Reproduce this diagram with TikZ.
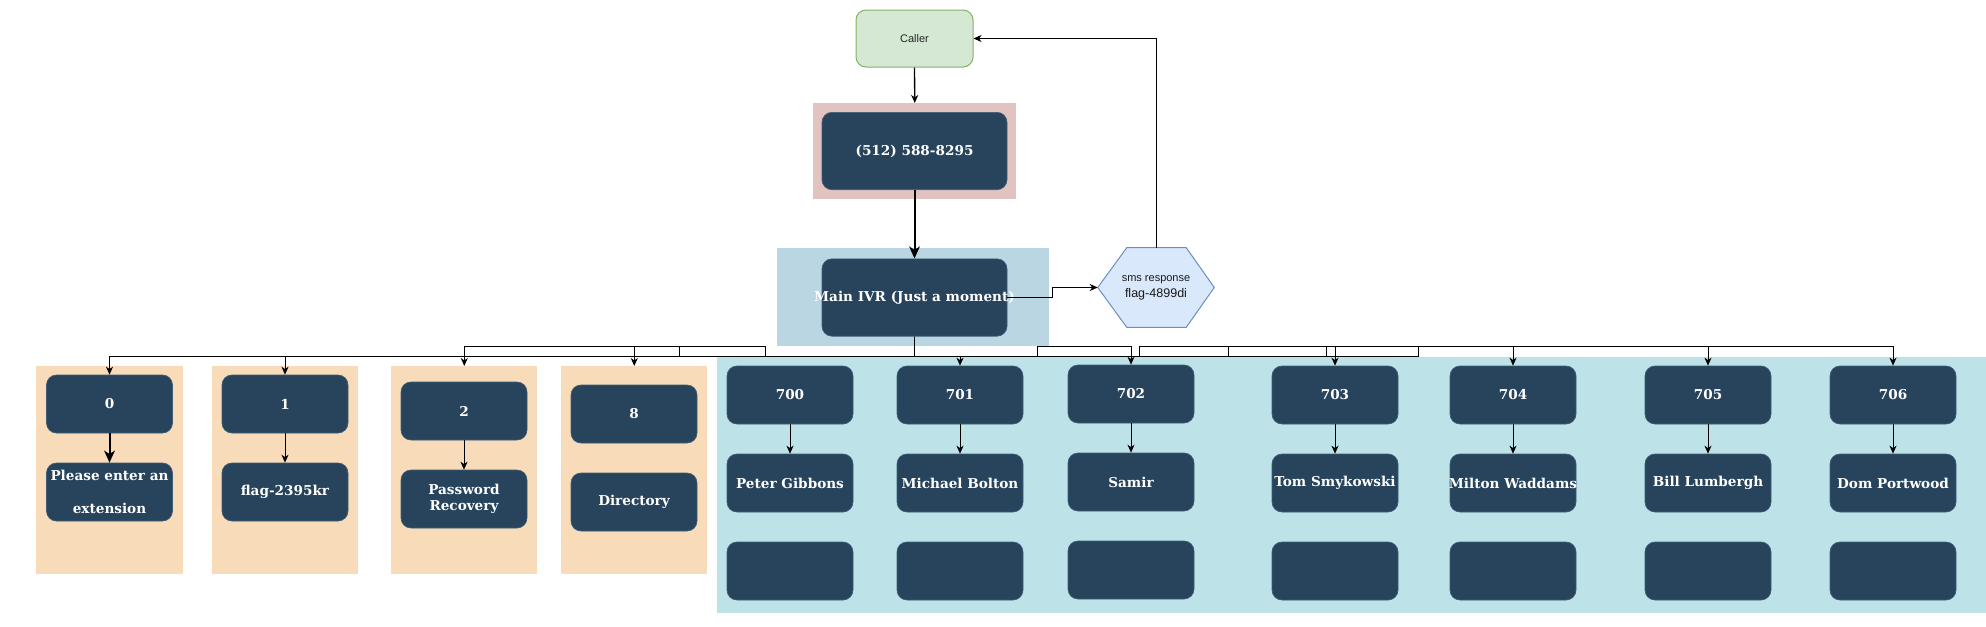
\documentclass[tikz,border=0pt]{standalone}
\usepackage{fontspec}
\setmainfont{DejaVu Serif}
\newfontfamily\sansf{Liberation Sans}
\usetikzlibrary{arrows.meta,backgrounds}
\definecolor{dk}{HTML}{27445C}
\definecolor{dkb}{HTML}{3E5C77}
\definecolor{beige}{HTML}{F8DCBA}
\definecolor{tealbg}{HTML}{BDE3E8}
\definecolor{pinkbg}{HTML}{E2C3BF}
\definecolor{bluebg}{HTML}{BAD6E2}
\definecolor{callerf}{HTML}{D5E8D4}
\definecolor{callerd}{HTML}{82B366}
\definecolor{hexf}{HTML}{DAE8FC}
\definecolor{hexd}{HTML}{6C8EBF}
\newcommand\ob[1]{\makebox[0pt][c]{#1}}
\def\pu{0.75pt}
\begin{document}
\begin{tikzpicture}[x=0.75pt,y=-0.75pt,
 dkn/.style={rectangle, rounded corners=7.5pt, draw=dkb, line width=0.5pt, fill=dk, text=white, align=center, inner sep=0pt, minimum width=94.5pt, minimum height=43.5pt, font=\fontsize{10.2}{12.5}\selectfont\bfseries},
 big/.style={dkn, minimum width=138.75pt, minimum height=58pt},
 bgr/.style={rectangle, inner sep=0pt, anchor=north west, draw=none},
 ln/.style={line width=0.75pt, draw=black},
 arr/.style={ln, -{Stealth[length=6pt,width=5.25pt,inset=1.8pt]}},
 tharr/.style={line width=1.5pt, draw=black, -{Stealth[length=9pt,width=8pt,inset=2.5pt]}},
]
\useasboundingbox (0,0) rectangle (1986,626);
% containers
\node[bgr, fill=pinkbg, minimum width=203*\pu, minimum height=96*\pu] (pink) at (813,103) {};
\node[bgr, fill=bluebg, minimum width=272*\pu, minimum height=98*\pu] (blue) at (777,248) {};
\node[bgr, fill=beige, minimum width=147*\pu, minimum height=208*\pu] (c0) at (36,366) {};
\node[bgr, fill=beige, minimum width=146*\pu, minimum height=208*\pu] (c1) at (212,366) {};
\node[bgr, fill=beige, minimum width=146*\pu, minimum height=208*\pu] (c2) at (391,366) {};
\node[bgr, fill=beige, minimum width=146*\pu, minimum height=208*\pu] (c3) at (561,366) {};
\node[bgr, fill=tealbg, minimum width=1269*\pu, minimum height=256*\pu] (tl) at (717,357) {};
% top nodes
\node[draw=callerd, fill=callerf, rounded corners=7.5pt, line width=0.75pt, minimum width=117*\pu, minimum height=57*\pu, inner sep=0pt, text=black!85, font=\sansf\fontsize{8.25}{10}\selectfont] (caller) at (914.5,38.5) {Caller};
\node[big] (phone) at (914.5,151) {(512) 588-8295};
\node[big] (ivr) at (914.5,297.5) {\ob{Main IVR (Just a moment)}};
\node[inner sep=0pt, minimum width=116*\pu, minimum height=79*\pu, align=center, font=\sansf, text=black!90] (hex) at (1156,287.5) {{\fontsize{8.25}{12}\selectfont sms response}\\{\fontsize{9.4}{12}\selectfont flag-4899di}};
\begin{scope}[on background layer]
\draw[hexd, fill=hexf, line width=0.75pt] (hex.west) -- ([xshift=29*\pu]hex.north west) -- ([xshift=-28*\pu]hex.north east) -- (hex.east) -- ([xshift=-28*\pu]hex.south east) -- ([xshift=29*\pu]hex.south west) -- cycle;
\end{scope}
% menu options
\node[dkn] (n0) at (109.5,404) {0};
\node[dkn, font=\fontsize{10.2}{24.75}\selectfont\bfseries] (p0) at (109.5,492) {\ob{Please enter an}\\extension};
\node[dkn] (n1) at (285,404) {1};
\node[dkn] (p1) at (285,492) {flag-2395kr};
\node[dkn] (n2) at (464,411) {2};
\node[dkn] (p2) at (464,499) {Password\\Recovery};
\node[dkn] (n8) at (634,414) {8};
\node[dkn] (p8) at (634,502) {Directory};
% extensions
\foreach \nm/\x/\who/\dy in {700/790/Peter Gibbons/0, 701/960/Michael Bolton/0, 702/1131/Samir/-1, 703/1335/Tom Smykowski/0, 704/1513/Milton Waddams/0, 705/1708/Bill Lumbergh/0, 706/1893/Dom Portwood/0}{
  \node[dkn] (e\nm) at (\x,395+\dy) {\nm};
  \node[dkn] (w\nm) at (\x,483+\dy) {\ob{\who}};
  \node[dkn] (b\nm) at (\x,571+\dy) {};
  \draw[arr] (e\nm.south) -- (w\nm.north);
}
% connectors
\draw[arr, line width=1pt] (caller.south) -- (pink.north);
\draw[tharr] (phone.south) -- (ivr.north);
\coordinate (jh) at (1052,297.5);
\draw[arr] (ivr.east) -- (jh) |- (hex.west);
\draw[arr] (hex.north) |- (caller.east);
\draw[tharr] (n0.south) -- (p0.north);
\draw[arr] (n1.south) -- (p1.north);
\draw[arr] (n2.south) -- (p2.north);
\coordinate (bus) at (0,356);
\coordinate (up) at (0,346);
\foreach \k in {679,765,1037,1139,1228,1326,1418}{\coordinate (k\k) at (\k,0);}
\draw[arr] (ivr.south) |- (bus -| n0) -- (n0.north);
\draw[arr] (ivr.south) |- (bus -| n1) -- (n1.north);
\draw[arr] (ivr.south) |- (bus -| k765) -- (up -| k765) -| (c2.north);
\draw[arr] (ivr.south) |- (bus -| k679) -- (up -| k679) -| (c3.north);
\draw[arr] (ivr.south) |- (bus -| e701) -- (e701.north);
\draw[arr] (ivr.south) |- (bus -| k1037) -- (up -| k1037) -| (e702.north);
\draw[arr] (ivr.south) |- (bus -| k1326) -- (up -| k1326) -| (e703.north);
\draw[arr] (ivr.south) |- (bus -| k1228) -- (up -| k1228) -| (e704.north);
\draw[arr] (ivr.south) |- (bus -| k1418) -- (up -| k1418) -| (e705.north);
\draw[arr] (ivr.south) |- (bus -| k1139) -- (up -| k1139) -| (e706.north);
\end{tikzpicture}
\end{document}
